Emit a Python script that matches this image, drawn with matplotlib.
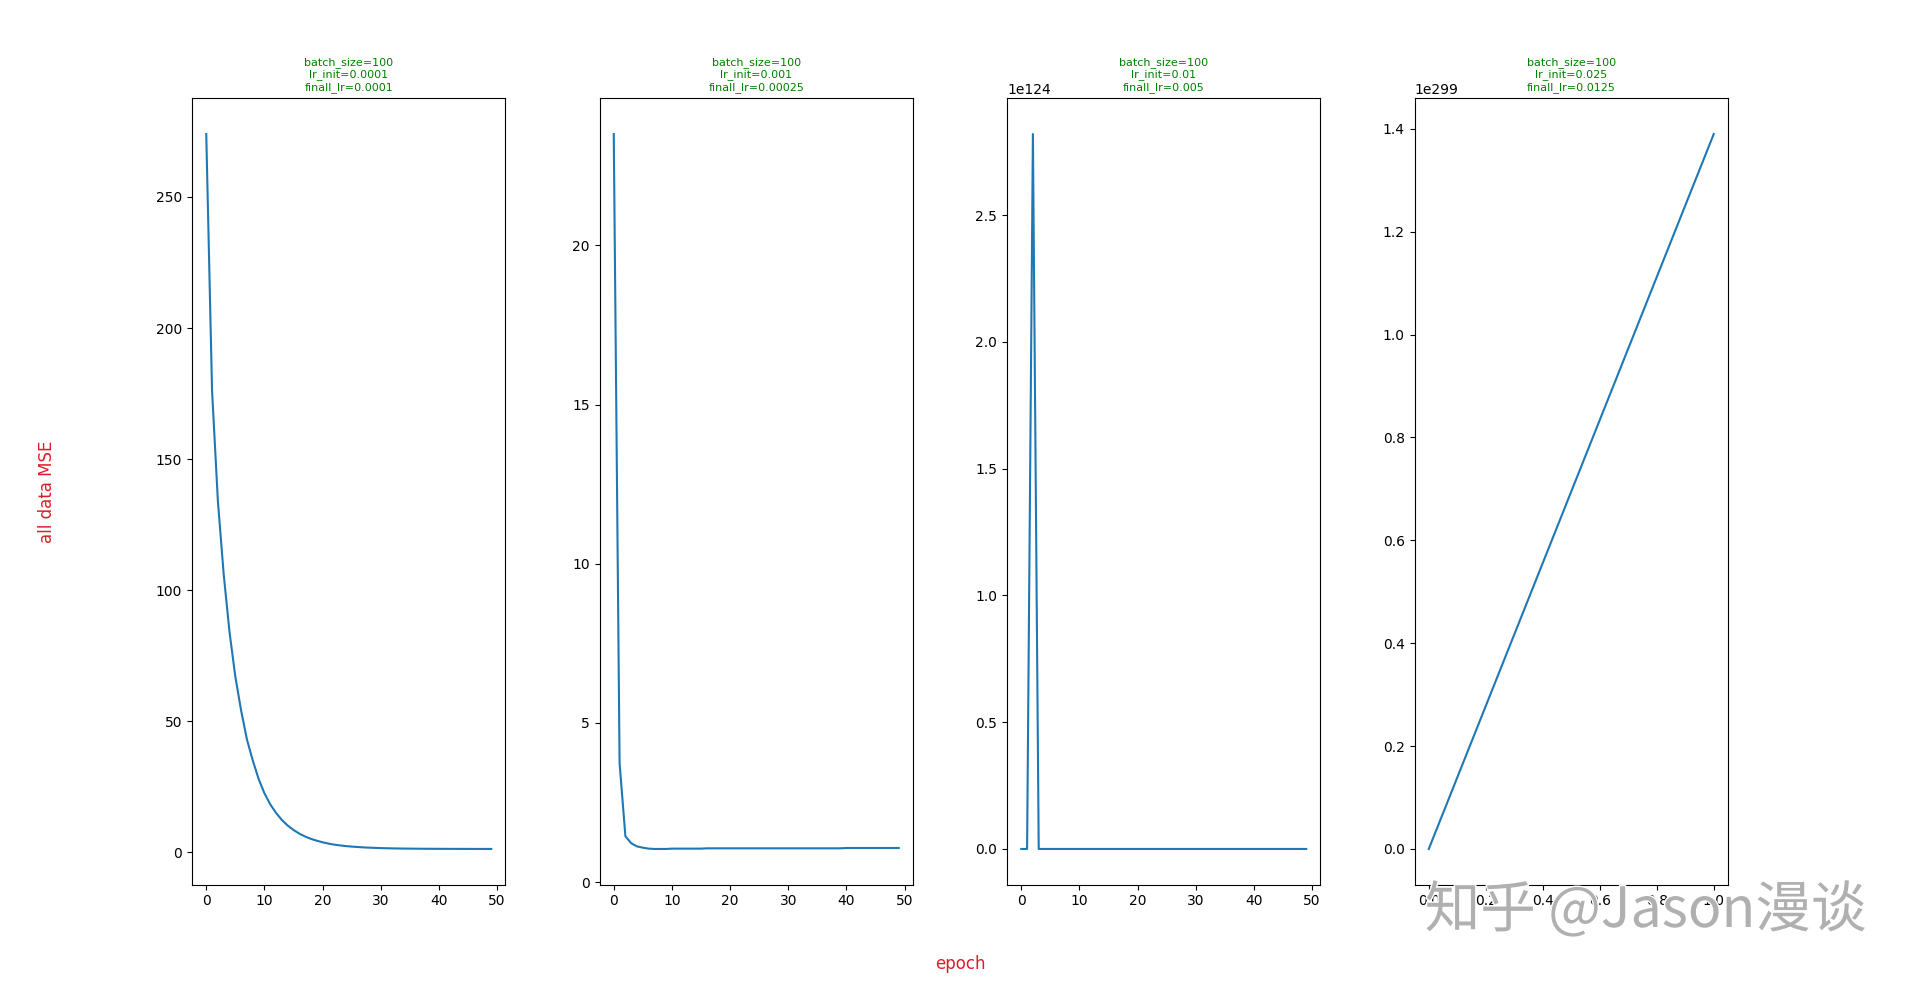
import matplotlib
matplotlib.use('Agg')
import matplotlib.pyplot as plt
import matplotlib.patheffects as pe

## MSE per epoch
mse_1 = [274.0, 176.0, 134.0, 106.0, 84.0, 67.0, 54.0, 43.0, 35.0, 28.0,
         22.5, 18.3, 15.0, 12.3, 10.2, 8.5, 7.1, 6.0, 5.1, 4.4,
         3.8, 3.3, 2.9, 2.6, 2.35, 2.15, 2.0, 1.85, 1.75, 1.65,
         1.58, 1.52, 1.47, 1.43, 1.40, 1.37, 1.35, 1.33, 1.32, 1.31,
         1.30, 1.29, 1.28, 1.28, 1.27, 1.27, 1.26, 1.26, 1.26, 1.25]
mse_2 = [23.5, 3.74, 1.44, 1.22, 1.12, 1.08, 1.05, 1.04, 1.04, 1.04,
         1.05, 1.05, 1.05, 1.05, 1.05, 1.05, 1.06, 1.06, 1.06, 1.06,
         1.06, 1.06, 1.06, 1.06, 1.06, 1.06, 1.06, 1.06, 1.06, 1.06,
         1.06, 1.06, 1.06, 1.06, 1.06, 1.06, 1.06, 1.06, 1.06, 1.06,
         1.07, 1.07, 1.07, 1.07, 1.07, 1.07, 1.07, 1.07, 1.07, 1.07]
mse_3 = [270.0, 3.0e61, 2.82e124] + [0.0] * 47
mse_4 = [0.0, 1.39e299]

batch_size = [100, 100, 100, 100]
lr_init = ['0.0001', '0.001', '0.01', '0.025']
final_lr = ['0.0001', '0.00025', '0.005', '0.0125']

runs = [mse_1, mse_2, mse_3, mse_4]

fig, axes = plt.subplots(1, 4, figsize=(19.2, 9.83), dpi=100)
plt.subplots_adjust(left=0.1, right=0.9, bottom=0.1, top=0.9, wspace=0.3)

for i, ax in enumerate(axes):
    ax.plot(range(len(runs[i])), runs[i])
    ax.set_title('batch_size={}\nlr_init={}\nfinall_lr={}'.format(batch_size[i], lr_init[i], final_lr[i]),
                 fontsize=8, color='green')

fig.supxlabel('epoch', color='#dd1c2a')
fig.supylabel('all data MSE', color='#dd1c2a')

# site watermark
fig.text(0.857, 0.073, '知乎 @Jason漫谈', ha='center', va='center', fontsize=40,
         color='#b0b0b0', family=['Noto Sans CJK SC', 'DejaVu Sans'], zorder=10,
         path_effects=[pe.withStroke(linewidth=2, foreground='white')])

plt.savefig('out.png')
